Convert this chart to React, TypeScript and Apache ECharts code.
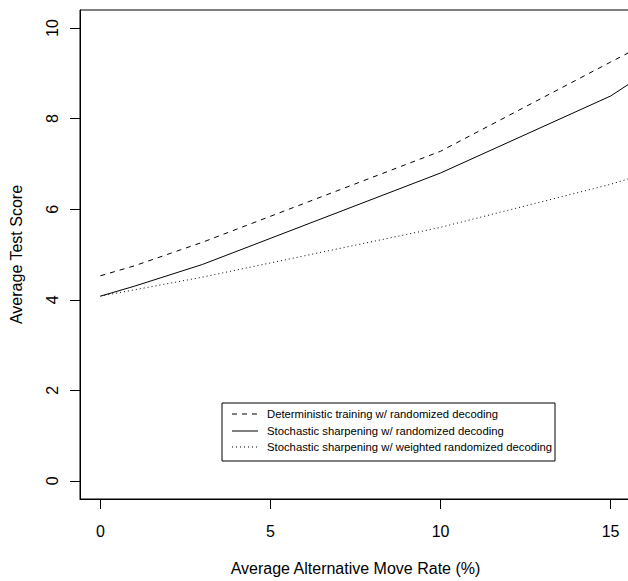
import React, { useEffect, useRef } from "react";
import * as echarts from "echarts";

const xValues = [0, 1, 3, 10, 15, 16];
const deterministic = [4.53, 4.75, 5.27, 7.28, 9.25, 9.64];
const stochastic = [4.08, 4.3, 4.78, 6.8, 8.5, 8.99];
const stochasticWeighted = [4.08, 4.22, 4.5, 5.6, 6.55, 6.78];
const xTicks = [0, 5, 10, 15];
const yTicks = [0, 2, 4, 6, 8, 10];
const seriesNames = [
  "Deterministic training w/ randomized decoding",
  "Stochastic sharpening w/ randomized decoding",
  "Stochastic sharpening w/ weighted randomized decoding",
];
const lineTypes: any[] = [[5, 5], "solid", [1, 3]];

const FONT = "Liberation Sans";

export default function App() {
  const ref = useRef<HTMLDivElement>(null);
  useEffect(() => {
    const chart = echarts.init(ref.current!, undefined, { renderer: "svg" });
    const mk = (ys: number[]) => xValues.map((x, i) => [x, ys[i]]);
    const legendX = 222;
    const legendY = 403;
    const rowYs = [414, 431, 447];
    const legendGraphics: any[] = [
      {
        type: "rect",
        shape: { x: legendX, y: legendY, width: 333, height: 58 },
        style: { fill: "#fff", stroke: "#000", lineWidth: 1 },
        z: 100,
      },
    ];
    seriesNames.forEach((n, i) => {
      legendGraphics.push({
        type: "line",
        shape: { x1: 232, y1: rowYs[i], x2: 258, y2: rowYs[i] },
        style: { stroke: "#000", lineWidth: 1, lineDash: lineTypes[i] === "solid" ? null : lineTypes[i] },
        z: 101,
      });
      legendGraphics.push({
        type: "text",
        x: 267,
        y: rowYs[i],
        style: {
          text: n,
          fontFamily: FONT,
          fontSize: 11.3,
          fill: "#000",
          verticalAlign: "middle",
          align: "left",
        },
        z: 101,
      });
    });
    chart.setOption({
      animation: false,
      backgroundColor: "#fff",
      textStyle: { fontFamily: FONT, color: "#000" },
      grid: {
        left: 80,
        top: 10,
        width: 551,
        height: 493,
        show: true,
        borderColor: "#000",
        borderWidth: 1,
        containLabel: false,
      },
      graphic: legendGraphics,
      xAxis: {
        type: "value",
        min: -0.6,
        max: 15.6,
        name: "Average Alternative Move Rate (%)",
        nameLocation: "middle",
        nameGap: 61,
        nameTextStyle: { fontFamily: FONT, fontSize: 16, color: "#000" },
        axisLine: { show: true, onZero: false, lineStyle: { color: "#000", width: 1 } },
        axisTick: { show: true, length: 10, customValues: xTicks, lineStyle: { color: "#000" } },
        axisLabel: { customValues: xTicks, margin: 24, fontSize: 16, color: "#000", fontFamily: FONT },
        splitLine: { show: false },
      },
      yAxis: {
        type: "value",
        min: -0.4,
        max: 10.4,
        name: "Average Test Score",
        nameLocation: "middle",
        nameGap: 56,
        nameRotate: 90,
        nameTextStyle: { fontFamily: FONT, fontSize: 16, color: "#000" },
        axisLine: { show: true, onZero: false, lineStyle: { color: "#000", width: 1 } },
        axisTick: { show: true, length: 10, customValues: yTicks, lineStyle: { color: "#000" } },
        axisLabel: { customValues: yTicks, margin: 20, rotate: 90, fontSize: 16, color: "#000", fontFamily: FONT },
        splitLine: { show: false },
      },
      series: seriesNames.map((n, i) => ({
        name: n,
        type: "line",
        data: mk([deterministic, stochastic, stochasticWeighted][i]),
        symbol: "none",
        clip: true,
        lineStyle: { color: "#000", width: 1, type: lineTypes[i] },
        itemStyle: { color: "#000" },
      })),
    });
    return () => chart.dispose();
  }, []);
  return (
    <div style={{ position: "absolute", left: 0, top: 0, width: 628, height: 581, overflow: "hidden" }}>
      <div ref={ref} style={{ width: 680, height: 581 }} />
    </div>
  );
}
